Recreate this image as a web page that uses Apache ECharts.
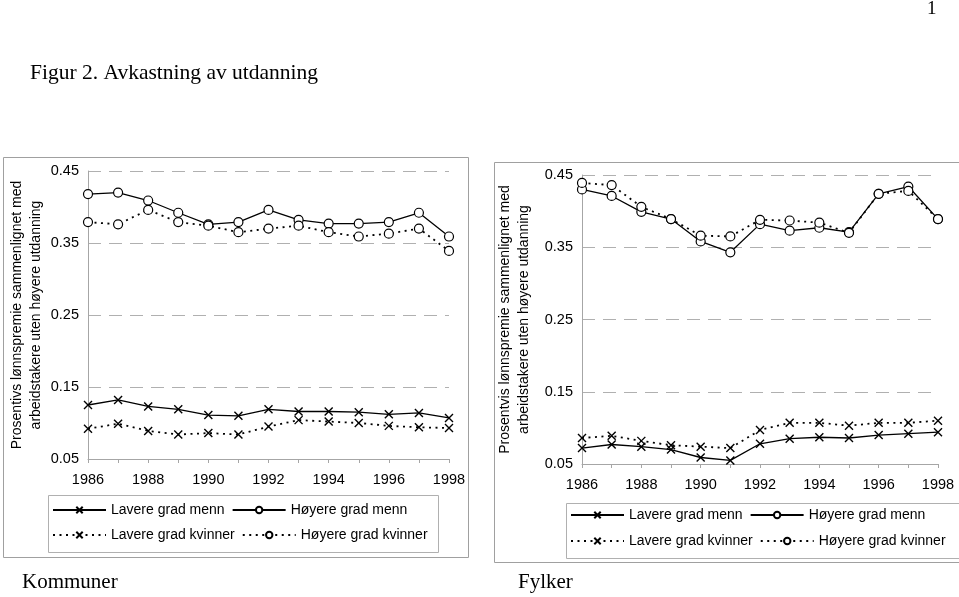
<!DOCTYPE html>
<html><head><meta charset="utf-8">
<script src="https://cdn.jsdelivr.net/npm/echarts@6/dist/echarts.min.js"></script>
<style>html,body{margin:0;padding:0;background:#fff}#c{width:959px;height:597px}</style>
</head><body><div id="c"></div><script>
const years = ['1986','1987','1988','1989','1990','1991','1992','1993','1994','1995','1996','1997','1998'];
const seriesNames = ['Lavere grad menn','Høyere grad menn','Lavere grad kvinner','Høyere grad kvinner'];
// Kommuner
const kommLavereMenn    = [0.125,0.132,0.123,0.119,0.111,0.110,0.119,0.116,0.116,0.115,0.112,0.114,0.107];
const kommHoyereMenn    = [0.418,0.420,0.409,0.392,0.376,0.379,0.396,0.382,0.377,0.377,0.379,0.392,0.359];
const kommLavereKvinner = [0.092,0.099,0.089,0.084,0.086,0.084,0.095,0.104,0.102,0.100,0.096,0.094,0.093];
const kommHoyereKvinner = [0.379,0.376,0.396,0.379,0.374,0.365,0.370,0.374,0.365,0.359,0.363,0.370,0.339];
// Fylker
const fylkLavereMenn    = [0.072,0.077,0.074,0.070,0.059,0.055,0.078,0.085,0.087,0.086,0.090,0.092,0.094];
const fylkHoyereMenn    = [0.430,0.421,0.399,0.389,0.358,0.343,0.382,0.373,0.377,0.371,0.424,0.434,0.389];
const fylkLavereKvinner = [0.086,0.089,0.082,0.076,0.074,0.072,0.097,0.107,0.107,0.103,0.107,0.107,0.110];
const fylkHoyereKvinner = [0.439,0.436,0.406,0.389,0.366,0.365,0.388,0.387,0.384,0.370,0.424,0.428,0.389];

const SANS = '"Liberation Sans", Arial, sans-serif';
const SERIF = '"Liberation Serif", "Times New Roman", serif';
const axisGray = '#a6a6a6';
const crossPath = 'path://M0,0L10,10M10,0L0,10';

function xAxis(gridIndex){
  return {
    type:'category', gridIndex, data:years, boundaryGap:false,
    axisLine:{lineStyle:{color:axisGray,width:1}},
    axisTick:{show:true,interval:0,length:4,lineStyle:{color:axisGray}},
    axisLabel:{interval:1,color:'#000',fontFamily:SANS,fontSize:14.5,margin:13},
    splitLine:{show:false}
  };
}
function yAxis(gridIndex, name, gap){
  return {
    type:'value', gridIndex, min:0.05, max:0.45, interval:0.1,
    name, nameLocation:'middle', nameRotate:90, nameGap:gap,
    nameTextStyle:{color:'#000',fontFamily:SANS,fontSize:14,lineHeight:19},
    axisLine:{show:true,lineStyle:{color:axisGray,width:1}},
    axisTick:{show:false},
    axisLabel:{color:'#000',fontFamily:SANS,fontSize:14.5,margin:9,formatter:v=>v.toFixed(2)},
    splitLine:{show:true,lineStyle:{color:'#b0b0b0',width:1,type:[13,8]}}
  };
}
function mk(name, data, gi, cross, dotted){
  return {
    name, type:'line', xAxisIndex:gi, yAxisIndex:gi, data,
    symbol: cross ? crossPath : 'circle',
    symbolSize: cross ? 8 : 9,
    showSymbol:true,
    itemStyle: cross ? {color:'#000',borderColor:'#000',borderWidth:1.4}
                     : {color:'#fff',borderColor:'#000',borderWidth:1.2},
    lineStyle:{color:'#000',width: dotted?1.8:1.3, type: dotted?[2,4.5]:'solid'},
    emphasis:{disabled:true}, animation:false
  };
}
function legend(items, left, top){
  return {
    data: items, left, top, orient:'horizontal', padding:0,
    itemWidth:53, itemHeight:8, itemGap:7,
    textStyle:{color:'#000',fontFamily:SANS,fontSize:14,width:130,overflow:'none'},
    selectedMode:false
  };
}

const chart = echarts.init(document.getElementById('c'));
chart.setOption({
  backgroundColor:'#fff',
  animation:false,
  grid:[
    {left:88, right:510, top:171, bottom:138},
    {left:582, right:21, top:175, bottom:133}
  ],
  xAxis:[xAxis(0), xAxis(1)],
  yAxis:[
    yAxis(0, 'Prosentivs lønnspremie sammenlignet med\narbeidstakere uten høyere utdanning', 42),
    yAxis(1, 'Prosentvis lønnspremie sammenlignet med\narbeidstakere uten høyere utdanning', 48)
  ],
  legend:[
    legend([seriesNames[0],seriesNames[1]], 52, 503),
    legend([seriesNames[2],seriesNames[3]], 52, 528),
    legend([seriesNames[0],seriesNames[1]], 570, 508),
    legend([seriesNames[2],seriesNames[3]], 570, 534)
  ],
  series:[
    mk(seriesNames[0], kommLavereMenn, 0, true, false),
    mk(seriesNames[1], kommHoyereMenn, 0, false, false),
    mk(seriesNames[2], kommLavereKvinner, 0, true, true),
    mk(seriesNames[3], kommHoyereKvinner, 0, false, true),
    mk(seriesNames[0], fylkLavereMenn, 1, true, false),
    mk(seriesNames[1], fylkHoyereMenn, 1, false, false),
    mk(seriesNames[2], fylkLavereKvinner, 1, true, true),
    mk(seriesNames[3], fylkHoyereKvinner, 1, false, true)
  ],
  graphic:[
    {type:'rect', shape:{x:3.5,y:157.5,width:465,height:400}, style:{fill:'none',stroke:'#a0a0a0',lineWidth:1}, z:-1},
    {type:'rect', shape:{x:494.5,y:162.5,width:470,height:400}, style:{fill:'none',stroke:'#a0a0a0',lineWidth:1}, z:-1},
    {type:'rect', shape:{x:48.5,y:495.5,width:390,height:57}, style:{fill:'none',stroke:'#b0b0b0',lineWidth:1}, z:-1},
    {type:'rect', shape:{x:566.5,y:503.5,width:400,height:55}, style:{fill:'none',stroke:'#b0b0b0',lineWidth:1}, z:-1},
    {type:'text', left:30, top:62, style:{text:'Figur 2. Avkastning av utdanning',fill:'#000',font:'21.5px '+SERIF}},
    {type:'text', left:927, top:0, style:{text:'1',fill:'#000',font:'19px '+SERIF}},
    {type:'text', left:22, top:572, style:{text:'Kommuner',fill:'#000',font:'21px '+SERIF}},
    {type:'text', left:518, top:572, style:{text:'Fylker',fill:'#000',font:'21px '+SERIF}}
  ]
});
</script></body></html>
